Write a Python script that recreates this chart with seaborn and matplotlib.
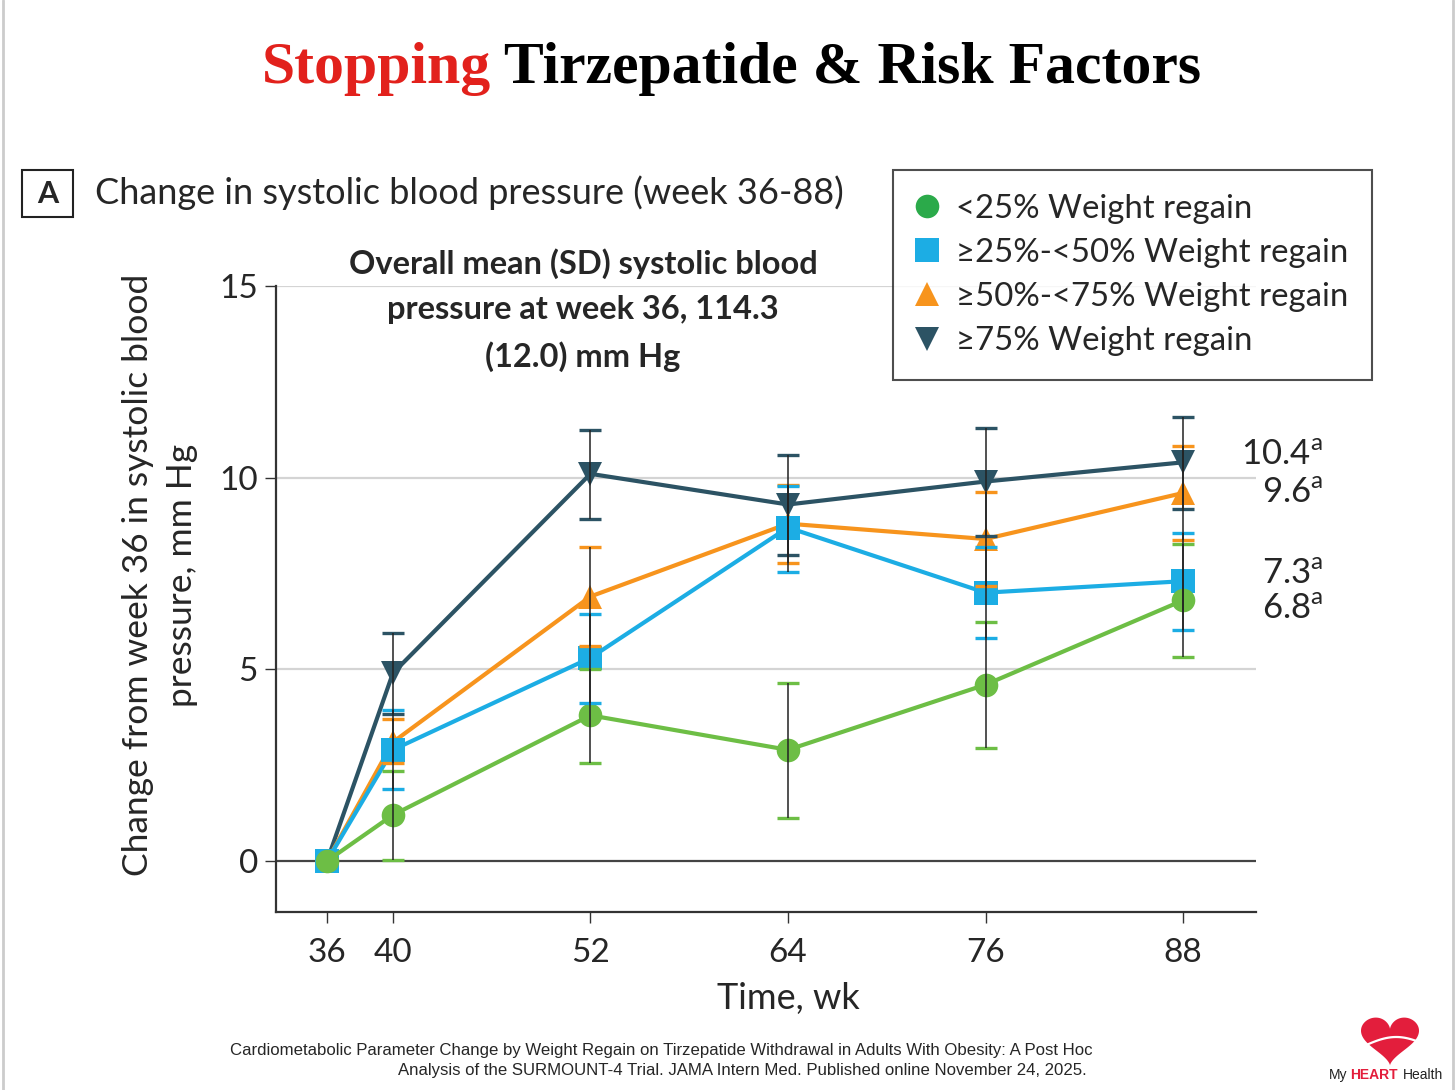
import numpy as np
import pandas as pd
import matplotlib
matplotlib.use('Agg')
import matplotlib.pyplot as plt
from matplotlib.lines import Line2D
from matplotlib.patches import Rectangle, Polygon
import seaborn as sns

# Data
weeks = [36, 40, 52, 64, 76, 88]
ci_weeks = [40, 52, 64, 76, 88]
groups = ['<25% Weight regain', '≥25%-<50% Weight regain',
          '≥50%-<75% Weight regain', '≥75% Weight regain']

green_mean = [0, 1.2, 3.8, 2.9, 4.6, 6.8]
green_lo = [0.03, 2.56, 1.12, 2.95, 5.33]
green_hi = [2.35, 5.0, 4.64, 6.24, 8.27]

blue_mean = [0, 2.9, 5.3, 8.7, 7.0, 7.3]
blue_lo = [1.88, 4.13, 7.55, 5.81, 6.02]
blue_hi = [3.94, 6.44, 9.79, 8.2, 8.56]

orange_mean = [0, 3.1, 6.9, 8.8, 8.4, 9.6]
orange_lo = [2.56, 5.61, 7.78, 7.17, 8.37]
orange_hi = [3.7, 8.18, 9.82, 9.63, 10.83]

dark_mean = [0, 4.9, 10.1, 9.3, 9.9, 10.4]
dark_lo = [3.83, 8.92, 7.97, 8.48, 9.18]
dark_hi = [5.96, 11.24, 10.59, 11.29, 11.59]

end_labels = ['6.8', '7.3', '9.6', '10.4']
end_label_y = [6.57, 7.49, 9.6, 10.59]

colors = ['#6DBE45', '#1CADE4', '#F7941D', '#2C5364']
legend_colors = ['#2BAA4A', '#1CADE4', '#F7941D', '#2C5364']
markers = ['o', 's', '^', 'v']

means = [green_mean, blue_mean, orange_mean, dark_mean]
los = [green_lo, blue_lo, orange_lo, dark_lo]
his = [green_hi, blue_hi, orange_hi, dark_hi]

df = pd.DataFrame({
    'week': weeks * 4,
    'change': sum(means, []),
    'group': np.repeat(groups, len(weeks)),
})

sns.set_theme(style='white')
plt.rcParams['font.family'] = ['Lato', 'DejaVu Sans']
plt.rcParams['mathtext.fontset'] = 'custom'
plt.rcParams['mathtext.rm'] = 'Lato'

W, H = 1456, 1090
fig = plt.figure(figsize=(W / 100, H / 100), dpi=100)

def fx(px):
    return px / W

def fy(py):
    return 1 - py / H

ax = fig.add_axes([fx(276), fy(912), fx(1256) - fx(276), fy(286) - fy(912)])

# grid lines and zero line
for yv in [5, 10, 15]:
    ax.axhline(yv, color='#d4d4d4', lw=1.6, zorder=0)
ax.axhline(0, color='#444444', lw=1.6, zorder=0.5)

draw_order = [3, 2, 1, 0]
sns.lineplot(data=df, x='week', y='change', hue='group', style='group',
             hue_order=[groups[i] for i in draw_order],
             style_order=[groups[i] for i in draw_order],
             palette=dict(zip(groups, colors)),
             markers=dict(zip(groups, markers)), dashes=False,
             markersize=17, markeredgewidth=0, linewidth=3,
             legend=False, ax=ax, zorder=3)

for i in draw_order:
    m = np.array(means[i][1:])
    lo = np.array(los[i])
    hi = np.array(his[i])
    ax.errorbar(ci_weeks, m, yerr=[m - lo, hi - m], fmt='none',
                ecolor=colors[i], elinewidth=0, capsize=8, capthick=2.4, zorder=4)
    ax.vlines(ci_weeks, lo, hi, color='#222222', lw=1.1, zorder=5)

ax.set_xlim(32.9, 92.43)
ax.set_ylim(-1.33, 15)
ax.set_xticks(weeks)
ax.set_yticks([0, 5, 10, 15])
ax.tick_params(axis='both', direction='out', length=8, width=1, color='#333333',
               labelsize=24, left=True, bottom=True)
ax.tick_params(axis='x', pad=11)
ax.tick_params(axis='y', pad=5)
for s in ['top', 'right']:
    ax.spines[s].set_visible(False)
for s in ['left', 'bottom']:
    ax.spines[s].set_color('#333333')
    ax.spines[s].set_linewidth(1.6)
ax.set_xlabel('Time, wk', fontsize=26)
ax.xaxis.set_label_coords(0.523, -0.112)
ax.set_ylabel('')

# end-of-line values
for lab, yv in zip(end_labels, end_label_y):
    ax.text(96.5, yv, lab + r'$^{\mathrm{a}}$', fontsize=25, ha='right', va='center',
            clip_on=False)

# y label
fig.text(fx(160), fy(575), 'Change from week 36 in systolic blood\npressure, mm Hg',
         rotation=90, ha='center', va='center', fontsize=25.5, linespacing=1.45,
         multialignment='center')

# note inside plot
fig.text(fx(583), fy(310), 'Overall mean (SD) systolic blood\npressure at week 36, 114.3\n(12.0) mm Hg',
         ha='center', va='center', fontsize=23.5, fontweight='bold', linespacing=1.66)

# legend
handles = [Line2D([], [], ls='none', marker=markers[i], color=legend_colors[i],
                  markersize=17, markeredgewidth=0) for i in range(4)]
leg = fig.legend(handles, groups, loc='upper left',
                 bbox_to_anchor=(fx(893), fy(170)), borderaxespad=0,
                 fontsize=23.7, frameon=True, fancybox=False, borderpad=0.72,
                 labelspacing=0.43, handletextpad=0.6, handlelength=0.6)
leg.get_frame().set_edgecolor('#222222')
leg.get_frame().set_linewidth(1.5)

# panel heading
fig.add_artist(Rectangle((fx(22), fy(217)), fx(73) - fx(22), fy(170) - fy(217),
                         transform=fig.transFigure, fill=False, ec='#222222', lw=1.5))
fig.text(fx(47.5), fy(194), 'A', ha='center', va='center', fontsize=22, fontweight='bold')
fig.text(fx(95), fy(193), 'Change in systolic blood pressure (week 36-88)',
         ha='left', va='center', fontsize=26)

# title
fig.text(fx(262), fy(69), 'Stopping', ha='left', va='center', color='#E2211C',
         fontsize=43, fontweight='bold', family='Liberation Serif')
fig.text(fx(504), fy(69), 'Tirzepatide & Risk Factors', ha='left', va='center',
         color='black', fontsize=43, fontweight='bold', family='Liberation Serif')

# source
fig.text(fx(230), fy(1051), 'Cardiometabolic Parameter Change by Weight Regain on Tirzepatide '
         'Withdrawal in Adults With Obesity: A Post Hoc', ha='left', va='center',
         fontsize=12.1, family='Liberation Sans')
fig.text(fx(398), fy(1071), 'Analysis of the SURMOUNT-4 Trial. JAMA Intern Med. '
         'Published online November 24, 2025.', ha='left', va='center',
         fontsize=12.1, family='Liberation Sans')

# logo: heart shape + swoosh
t = np.linspace(0, 2 * np.pi, 200)
hx = 16 * np.sin(t) ** 3
hy = 13 * np.cos(t) - 5 * np.cos(2 * t) - 2 * np.cos(3 * t) - np.cos(4 * t)
px = 1390 + hx / 32 * 58
py = 1036 - (hy - 0.8) / 29 * 48
fig.add_artist(Polygon(np.column_stack([fx(px), fy(py)]), closed=True,
                       transform=fig.transFigure, fc='#E31E3C', ec='none'))
sx = np.linspace(1364, 1422, 30)
sy = 1046 - 9 * np.sin((sx - 1364) / 58 * np.pi * 0.9)
fig.add_artist(Line2D(fx(sx), fy(sy), transform=fig.transFigure, color='white', lw=1.6))
fig.text(fx(1329), fy(1075), 'My', ha='left', va='center', fontsize=10,
         family='Liberation Sans', color='#222222')
fig.text(fx(1350), fy(1075), 'HEART', ha='left', va='center', fontsize=10,
         family='Liberation Sans', fontweight='bold', color='#E31E3C')
fig.text(fx(1403), fy(1075), 'Health', ha='left', va='center', fontsize=10,
         family='Liberation Sans', color='#222222')

# page borders
fig.add_artist(Line2D([fx(3), fx(3)], [0, 1], transform=fig.transFigure, color='#cccccc', lw=2))
fig.add_artist(Line2D([fx(1453), fx(1453)], [0, 1], transform=fig.transFigure, color='#cccccc', lw=2))

fig.savefig('out.png', dpi=100)
